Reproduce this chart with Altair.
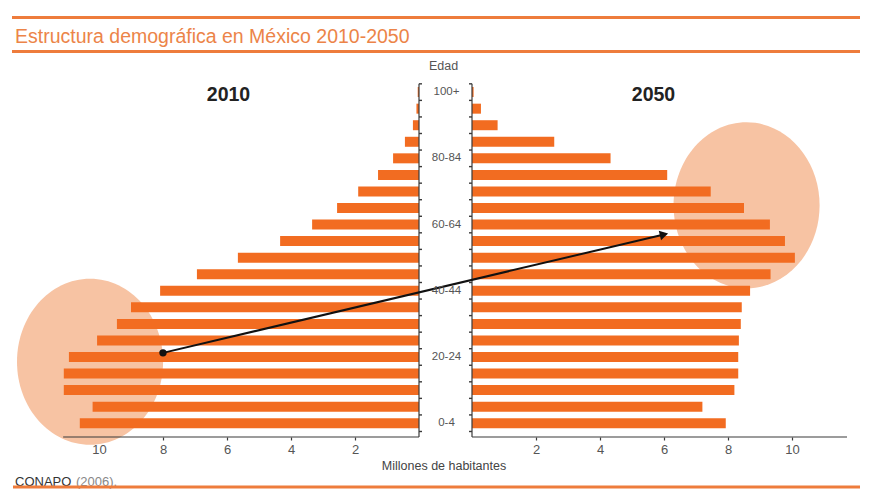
import math
import altair as alt
import pandas as pd

# ---------------- data ----------------
ages = ["0-4", "5-9", "10-14", "15-19", "20-24", "25-29", "30-34", "35-39",
        "40-44", "45-49", "50-54", "55-59", "60-64", "65-69", "70-74",
        "75-79", "80-84", "85-89", "90-94", "95-99", "100+"]
pop_2010 = [10.60, 10.20, 11.10, 11.10, 10.94, 10.06, 9.44, 9.00, 8.09, 6.94,
            5.66, 4.34, 3.34, 2.56, 1.90, 1.28, 0.81, 0.44, 0.19, 0.08, 0.04]
pop_2050 = [7.93, 7.20, 8.20, 8.32, 8.32, 8.34, 8.40, 8.43, 8.69, 9.33,
            10.09, 9.78, 9.31, 8.50, 7.46, 6.10, 4.33, 2.57, 0.80, 0.28, 0.05]
age_labels_shown = ["0-4", "20-24", "40-44", "60-64", "80-84", "100+"]
x_ticks = [2, 4, 6, 8, 10]
# highlight circles: [millions on its side, age-group index]
focus_2010 = [10.28, 3.72]
focus_2050 = [8.58, 13.16]
# arrow: [millions on its side, age-group index]
arrow_2010 = [8.0, 4.25]
arrow_2050 = [6.0, 11.4]
axis_reach = [11.12, 11.72]

title_text = "Estructura demográfica en México 2010-2050"
source_main = "CONAPO"
source_rest = "(2006)."
x_title = "Millones de habitantes"
y_title = "Edad"
year_left = "2010"
year_right = "2050"

# ---------------- styles / layout ----------------
ORANGE = "#F26C21"
PEACH = "#F7C3A3"
LINE_OR = "#EE7C3C"
TITLE_OR = "#EC8448"
AXIS = "#3a3a3a"
LABEL = "#555555"
FONT = "Liberation Sans"

W, H, PAD_B = 852, 429, 52
PX = 32.0            # pixels per million
ROW = 16.95          # pixels per age group
G = 26.5 / PX        # half gap between the two pyramids (in millions)
X0 = (8 - 445.5) / PX
X1 = X0 + W / PX
Y1 = 20 + (89 - 8) / ROW
Y0 = Y1 - H / ROW

xs = alt.Scale(domain=[X0, X1], nice=False, zero=False)
ys = alt.Scale(domain=[Y0, Y1], nice=False, zero=False)


def left(v):
    return -G - v


def right(v):
    return G + v


tick_u = [left(t) for t in x_ticks] + [right(t) for t in x_ticks]
x_axis = alt.Axis(values=tick_u,
                  labelExpr="'' + round(abs(datum.value) - %f)" % G,
                  domain=False, grid=False, ticks=True, tickSize=3,
                  tickColor=AXIS, tickWidth=1.2, labelColor=LABEL,
                  labelFontSize=13, labelFont=FONT, labelPadding=3, title=None)


def X(field):
    return alt.X(field, scale=xs, axis=x_axis)


def Y(field):
    return alt.Y(field, scale=ys, axis=None)


# bars
rows = []
for i, a in enumerate(ages):
    rows.append({"age": a, "idx": i, "u0": left(pop_2010[i]), "u1": -G, "year": year_left})
    rows.append({"age": a, "idx": i, "u0": G, "u1": right(pop_2050[i]), "year": year_right})
df_bars = pd.DataFrame(rows)

bars = alt.Chart(df_bars).mark_bar(size=10, color=ORANGE).encode(
    x=X("u0:Q"), x2="u1:Q", y=Y("idx:Q"))

# highlight ellipses (custom symbol path, ry = 1, rx = 0.88)
a, k = 0.88, 0.5523
ak = round(a * k, 4)
ELLIPSE = (f"M{a},0 C{a},{k} {ak},1 0,1 C{-ak},1 {-a},{k} {-a},0 "
           f"C{-a},{-k} {-ak},-1 0,-1 C{ak},-1 {a},{-k} {a},0 Z")
df_focus = pd.DataFrame({"u": [left(focus_2010[0]), right(focus_2050[0])],
                         "idx": [focus_2010[1], focus_2050[1]]})
ellipses = alt.Chart(df_focus).mark_point(
    shape=ELLIPSE, size=166 ** 2, filled=True, color=PEACH, opacity=1, strokeWidth=0
).encode(x=X("u:Q"), y=Y("idx:Q"))

# horizontal axis lines
df_hax = pd.DataFrame({"a": [left(axis_reach[0]), G], "b": [-G, right(axis_reach[1])]})
h_axes = alt.Chart(df_hax).mark_rule(color=AXIS, strokeWidth=1.2).encode(
    x=X("a:Q"), x2="b:Q", y=alt.value(H))

# vertical axis lines
top_idx = len(ages) - 0.5
df_vax = pd.DataFrame({"u": [-G, G], "top": [top_idx, top_idx]})
v_axes = alt.Chart(df_vax).mark_rule(color=AXIS, strokeWidth=1.2).encode(
    x=X("u:Q"), y=Y("top:Q"), y2=alt.value(H))

# small ticks at the age-group boundaries, pointing inward
tl = 3.0 / PX
trows = []
for kk in range(-1, len(ages)):
    b = kk + 0.5
    trows.append({"a": -G, "b": -G + tl, "y": b})
    trows.append({"a": G - tl, "b": G, "y": b})
df_ticks = pd.DataFrame(trows)
v_ticks = alt.Chart(df_ticks).mark_rule(color=AXIS, strokeWidth=1.4).encode(
    x=X("a:Q"), x2="b:Q", y=Y("y:Q"))

# arrow
df_arrow = pd.DataFrame({"ua": [left(arrow_2010[0])], "ia": [arrow_2010[1]],
                         "ub": [right(arrow_2050[0])], "ib": [arrow_2050[1]]})
arrow_line = alt.Chart(df_arrow).mark_rule(color="#111111", strokeWidth=2).encode(
    x=X("ua:Q"), x2="ub:Q", y=Y("ia:Q"), y2="ib:Q")
arrow_dot = alt.Chart(df_arrow).mark_point(
    shape="circle", filled=True, size=55, color="#111111", opacity=1
).encode(x=X("ua:Q"), y=Y("ia:Q"))
dx = (right(arrow_2050[0]) - left(arrow_2010[0])) * PX
dy = (arrow_2050[1] - arrow_2010[1]) * ROW
ang = (360 - math.degrees(math.atan2(dy, dx))) % 360
arrow_head = alt.Chart(df_arrow).mark_point(
    shape="triangle-right", filled=True, size=95, color="#111111", opacity=1, angle=ang
).encode(x=X("ub:Q"), y=Y("ib:Q"))

# centre age labels
df_lab = pd.DataFrame({"label": age_labels_shown,
                       "idx": [ages.index(s) for s in age_labels_shown]})
cx = (0 - X0) * PX
age_text = alt.Chart(df_lab).mark_text(
    fontSize=11.5, font=FONT, color=LABEL, align="center", baseline="middle"
).encode(x=alt.value(cx + 1), y=Y("idx:Q"), text="label:N")


def txt(s, x, y, **kw):
    return alt.Chart(pd.DataFrame({"t": [s]})).mark_text(font=FONT, **kw).encode(
        x=alt.value(x), y=alt.value(y), text="t:N")


edad = txt(y_title, cx - 2, 58, fontSize=12.5, color=LABEL, align="center", baseline="middle")
y2010 = txt(year_left, 220.5, 87, fontSize=19.5, fontWeight="bold", color="#222222",
            align="center", baseline="middle")
y2050 = txt(year_right, 645.5, 87, fontSize=19.5, fontWeight="bold", color="#222222",
            align="center", baseline="middle")
title = txt(title_text, 7, 35, fontSize=19.5, color=TITLE_OR, align="left",
            baseline="alphabetic")
xlab = txt(x_title, 436, 458, fontSize=12.5, color="#444444", align="center",
           baseline="middle")
src1 = txt(source_main, 7, 474, fontSize=13, color="#333333", align="left",
           baseline="middle")
src2 = txt(source_rest, 68, 474, fontSize=13, color="#888888", align="left",
           baseline="middle")

# orange header / footer lines (decoration)
df_lines = pd.DataFrame({"y": [9.5, 43.5, 479.0], "x": [4, 4, 5], "x2": [W, W, W]})
deco = alt.Chart(df_lines).mark_rule(color=LINE_OR, strokeWidth=3).encode(
    x=alt.X("x:Q", scale=None, axis=None), x2="x2:Q", y=alt.Y("y:Q", scale=None, axis=None))

chart = alt.layer(
    ellipses, bars, h_axes, v_axes, v_ticks, arrow_line, arrow_dot, arrow_head,
    age_text, edad, y2010, y2050, title, xlab, src1, src2, deco
).properties(
    width=W, height=H,
    padding={"left": 0, "top": 0, "right": 0, "bottom": PAD_B},
    autosize=alt.AutoSizeParams(type="none"),
    background="white",
).configure_view(stroke=None)

chart.save("out.html", embed_options={"renderer": "svg", "actions": False})
